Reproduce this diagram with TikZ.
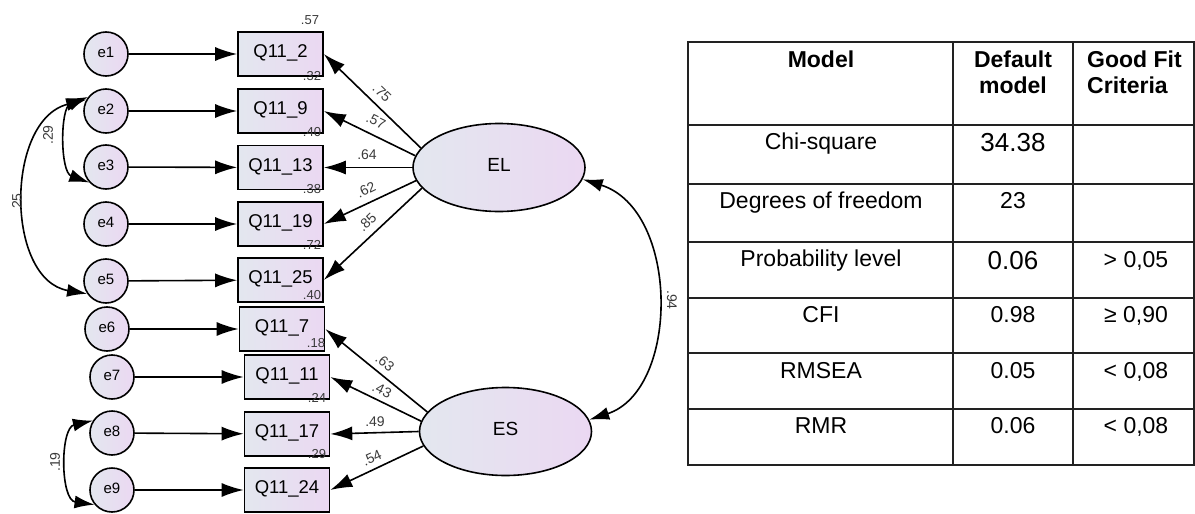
\documentclass[tikz,border=0pt]{standalone}
\usepackage{fontspec}
\setmainfont{Liberation Sans}
\usetikzlibrary{arrows.meta,shapes.geometric}
\definecolor{shadeL}{HTML}{E3E7EF}
\definecolor{shadeR}{HTML}{EBD8F2}
\definecolor{labelgray}{HTML}{3A3A3A}
\definecolor{rule}{HTML}{222222}
\begin{document}
\begin{tikzpicture}[x=1pt,y=-1pt,
  fs/.style={font=\fontsize{#1}{#1}\selectfont},
  semline/.style={line width=1.6pt, draw=black},
  errnode/.style={circle, semline, left color=shadeL, right color=shadeR, minimum size=44pt, inner sep=0pt, fs=15, text height=0.72em, text depth=0pt},
  obsnode/.style={rectangle, semline, left color=shadeL, right color=shadeR, minimum width=85pt, minimum height=44pt, inner sep=0pt, fs=18.5, text height=0.72em, text depth=0pt},
  latnode/.style={ellipse, semline, left color=shadeL, right color=shadeR, minimum width=172pt, minimum height=88pt, inner sep=0pt, fs=19, text height=0.72em, text depth=0pt},
  loadarrow/.style={line width=1.6pt, -{Latex[length=22pt,width=14pt]}},
  covarrow/.style={line width=1.6pt, {Latex[length=20pt,width=13pt]}-{Latex[length=20pt,width=13pt]}},
  coef/.style={fs=14, text=labelgray, inner sep=0pt},
  rsq/.style={fs=13, text=labelgray, inner sep=0pt},
  tcell/.style={fs=23, anchor=base, inner sep=0pt},
  tbig/.style={fs=26, anchor=base, inner sep=0pt},
  thead/.style={font=\fontsize{23}{23}\selectfont\bfseries, anchor=base, inner sep=0pt},
  tablerule/.style={line width=1.4pt, draw=rule}
]
\useasboundingbox (0,0) rectangle (1195,514);

% error terms
\node[errnode] (e1) at (106,54) {e1};
\node[errnode] (e2) at (106,111) {e2};
\node[errnode] (e3) at (106,167) {e3};
\node[errnode] (e4) at (106,224) {e4};
\node[errnode] (e5) at (106,281) {e5};
\node[errnode] (e6) at (107,329) {e6};
\node[errnode] (e7) at (112,377) {e7};
\node[errnode] (e8) at (112,433) {e8};
\node[errnode] (e9) at (112,490) {e9};

% observed items
\node[obsnode] (q2)  at (280.5,54)  {Q11\_2};
\node[obsnode] (q9)  at (280.5,111) {Q11\_9};
\node[obsnode] (q13) at (280.5,167.5) {Q11\_13};
\node[obsnode] (q19) at (280.5,224) {Q11\_19};
\node[obsnode] (q25) at (280.5,280) {Q11\_25};
\node[obsnode] (q7)  at (282,329)   {Q11\_7};
\node[obsnode] (q11) at (287,377)   {Q11\_11};
\node[obsnode] (q17) at (287,434)   {Q11\_17};
\node[obsnode] (q24) at (287,490)   {Q11\_24};

% latent factors
\node[latnode] (EL) at (499,167.5) {EL};
\node[latnode] (ES) at (505.5,431.5) {ES};

% error paths
\foreach \e/\q in {e1/q2,e2/q9,e3/q13,e4/q19,e5/q25,e6/q7,e7/q11,e8/q17,e9/q24}
  \draw[loadarrow] (\e) -- (\q);

% loadings of EL
\draw[loadarrow] (EL.166) -- (q2.east);
\draw[loadarrow] (EL.172) -- (q9.east);
\draw[loadarrow] (EL.180) -- (q13.east);
\draw[loadarrow] (EL.189) -- (q19.east);
\draw[loadarrow] (EL.195) -- (q25.east);

% loadings of ES
\draw[loadarrow] (ES.166) -- (q7.east);
\draw[loadarrow] (ES.173) -- (q11.east);
\draw[loadarrow] (ES.180) -- (q17.east);
\draw[loadarrow] (ES.190) -- (q24.east);

% loading estimates
\node[coef, rotate=-44] (c1) at (382,93)  {.75};
\node[coef, rotate=-26] (c2) at (376,121) {.57};
\node[coef]             (c3) at (367,155) {.64};
\node[coef, rotate=26]  (c4) at (366,190) {.62};
\node[coef, rotate=44]  (c5) at (367,222) {.85};
\node[coef, rotate=-40] (c6) at (385,363) {.63};
\node[coef, rotate=-26] (c7) at (382,390) {.43};
\node[coef]             (c8) at (375,422) {.49};
\node[coef, rotate=24]  (c9) at (372,458) {.54};

% squared multiple correlations
\node[rsq] (r2)  at (310,20)  {.57};
\node[rsq] (r9)  at (312,76)  {.32};
\node[rsq] (r13) at (312,132) {.40};
\node[rsq] (r19) at (312,189) {.38};
\node[rsq] (r25) at (312,245) {.72};
\node[rsq] (r7)  at (312,295) {.40};
\node[rsq] (r11) at (316,343) {.18};
\node[rsq] (r17) at (317,398) {.24};
\node[rsq] (r24) at (317,454) {.29};

% covariances
\draw[covarrow] (e2.142) .. controls (60,108) and (60,172) .. (e3.223);
\draw[covarrow] (e2.150) .. controls (5,120) and (5,280) .. (e5.214);
\draw[covarrow] (e8.147) .. controls (60,428) and (60,500) .. (e9.220);
\draw[covarrow] (EL.-8) .. controls (680,210) and (680,390) .. (ES.8);
\node[coef, rotate=90]  (k23) at (48,135)  {.29};
\node[coef, rotate=90]  (k25) at (17,203)  {.25};
\node[coef, rotate=90]  (k89) at (55,462)  {.19};
\node[coef, rotate=-90] (kLS) at (672,300) {.94};

% fit table grid
\draw[tablerule] (688,42) rectangle (1194,465);
\foreach \yy in {125,184,242,298,353,409}
  \draw[tablerule] (688,\yy) -- (1194,\yy);
\foreach \xx in {953,1073}
  \draw[tablerule] (\xx,42) -- (\xx,465);

% table header
\node[thead] (h1)  at (821,67)  {Model};
\node[thead] (h2a) at (1013,67) {Default};
\node[thead] (h2b) at (1013,93) {model};
\node[thead, anchor=base west] (h3a) at (1087,67) {Good Fit};
\node[thead, anchor=base west] (h3b) at (1087,93) {Criteria};

% table rows
\node[tcell] (m1) at (821,149) {Chi-square};
\node[tbig]  (v1) at (1013,151) {34.38};
\node[tcell] (m2) at (821,208) {Degrees of freedom};
\node[tcell] (v2) at (1013,208) {23};
\node[tcell] (m3) at (821,266) {Probability level};
\node[tbig]  (v3) at (1013,269) {0.06};
\node[tcell] (g3) at (1136,267) {> 0,05};
\node[tcell] (m4) at (821,322) {CFI};
\node[tcell] (v4) at (1013,322) {0.98};
\node[tcell] (g4) at (1136,322) {≥ 0,90};
\node[tcell] (m5) at (821,378) {RMSEA};
\node[tcell] (v5) at (1013,378) {0.05};
\node[tcell] (g5) at (1136,378) {< 0,08};
\node[tcell] (m6) at (821,433) {RMR};
\node[tcell] (v6) at (1013,433) {0.06};
\node[tcell] (g6) at (1136,433) {< 0,08};
\end{tikzpicture}
\end{document}
